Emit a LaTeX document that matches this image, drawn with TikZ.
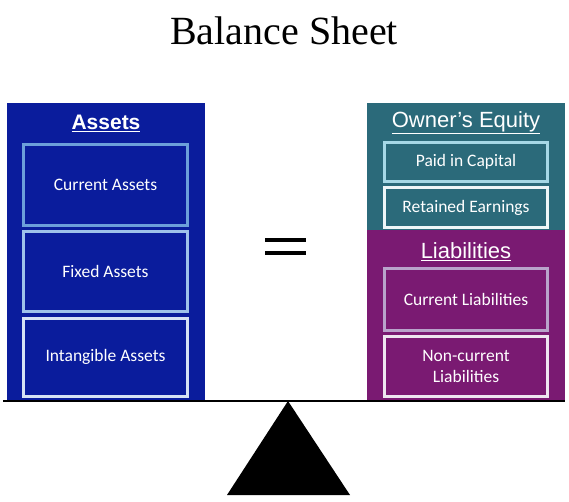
\documentclass[tikz,border=0pt]{standalone}
\usepackage{fontspec}
\setmainfont{Liberation Serif}
\newfontfamily\headfont{Liberation Sans}
\newfontfamily\boxfont{Carlito}
\usepackage{tikz}
\usetikzlibrary{positioning}

\definecolor{assetblue}{HTML}{0A1C9C}
\definecolor{equityteal}{HTML}{2B6A7A}
\definecolor{liabpurple}{HTML}{7A1A72}
\definecolor{rimA}{HTML}{6C9FDA}
\definecolor{rimB}{HTML}{9EC2EA}
\definecolor{rimC}{HTML}{D6E2F4}
\definecolor{rimD}{HTML}{A6D8E6}
\definecolor{rimE}{HTML}{EEF6F8}
\definecolor{rimF}{HTML}{B9A3CB}
\definecolor{rimG}{HTML}{EEE6F0}

\begin{document}
\begin{tikzpicture}[
    x=1pt, y=1pt,
    item/.style={draw, line width=3pt, minimum width=164pt, inner sep=0pt, align=center, text=white, font=\boxfont\fontsize{17.5}{21}\selectfont},
    heading/.style={text=white, font=\headfont\fontsize{22}{26}\selectfont},
    beam/.style={line width=2.5pt, black}
]
\useasboundingbox (0,0) rectangle (569,501);

\node[font=\fontsize{40}{44}\selectfont] (title) at (284,470) {Balance Sheet};

% assets column
\fill[assetblue] (7,101) rectangle (205,398);
\node[heading, font=\headfont\bfseries\fontsize{21}{26}\selectfont] (assets) at (106,378) {\underline{Assets}};
\node[item, fill=assetblue, draw=rimA, minimum height=81pt] (a0) at (105.5,316) {Current Assets};
\node[item, fill=assetblue, draw=rimB, minimum height=80pt, below=3pt of a0] (a1) {Fixed Assets};
\node[item, fill=assetblue, draw=rimC, minimum height=78pt, below=3.5pt of a1] (a2) {Intangible Assets};

% equity and liabilities column
\fill[equityteal] (367,271) rectangle (565,398);
\fill[liabpurple] (367,101) rectangle (565,271);
\node[heading] (equity) at (466,378) {\underline{Owner’s Equity}};
\node[item, fill=equityteal, draw=rimD, minimum width=163pt, minimum height=39pt] (e0) at (466,339) {Paid in Capital};
\node[item, fill=equityteal, draw=rimE, minimum width=163pt, minimum height=40pt, below=3pt of e0] (e1) {Retained Earnings};
\node[heading] (liab) at (466,249) {\underline{Liabilities}};
\node[item, fill=liabpurple, draw=rimF, minimum width=163pt, minimum height=62pt] (l0) at (466,201.5) {Current Liabilities};
\node[item, fill=liabpurple, draw=rimG, minimum width=163pt, minimum height=60pt, below=3pt of l0] (l1) {Non-current\\Liabilities};

% equals sign
\draw[line width=3.5pt] (265,261) -- (306,261);
\draw[line width=3.5pt] (265,248) -- (306,248);

% scale
\draw[beam] (3,100) -- (565,100);
\fill[black] (288,100) -- (350,6) -- (227,6) -- cycle;
\end{tikzpicture}
\end{document}
